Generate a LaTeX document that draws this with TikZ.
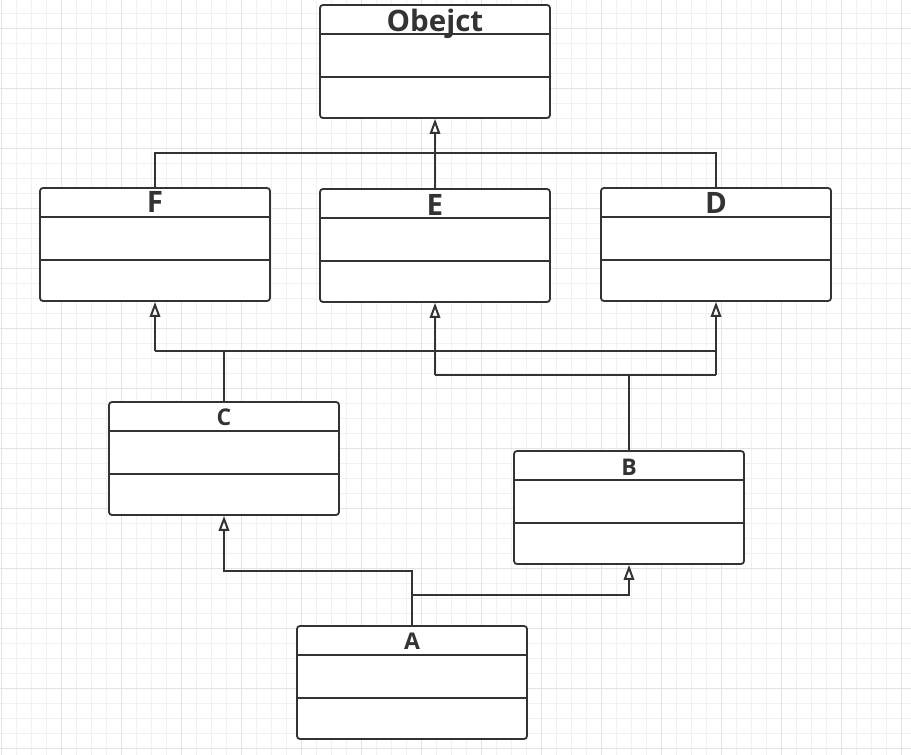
\documentclass[tikz,border=0pt]{standalone}
\usepackage{fontspec}
\setmainfont{Open Sans}
\usetikzlibrary{arrows.meta}
\definecolor{ink}{HTML}{333333}
\definecolor{gridminor}{HTML}{F1F1F1}
\definecolor{gridmajor}{HTML}{E3E3E3}
\tikzset{
  cls/.style={draw=ink, line width=1.8pt, rounded corners=3pt, minimum width=230pt, minimum height=113pt, inner sep=0pt, fill=white},
  bigtitle/.style={text=ink, font=\fontsize{29.5}{30}\selectfont\bfseries, anchor=base, inner sep=0pt},
  smalltitle/.style={text=ink, font=\fontsize{23}{24}\selectfont\bfseries, anchor=base, inner sep=0pt},
  conn/.style={draw=ink, line width=1.8pt},
  inh/.style={conn, -{Triangle[open, length=15pt, width=10.5pt, line width=2pt]}},
  divider/.style={draw=ink, line width=1.8pt}
}
\newcommand{\classbox}[3]{%
  % #1 name, #2 x, #3 y center
  \node[cls] (#1) at (#2,#3) {};
  \draw[divider] ([yshift=-30pt]#1.north west) -- ([yshift=-30pt]#1.north east);
  \draw[divider] ([yshift=-72.5pt]#1.north west) -- ([yshift=-72.5pt]#1.north east);
}
\begin{document}
\begin{tikzpicture}[x=1pt,y=-1pt]
\useasboundingbox (0,0) rectangle (911,755);
\fill[white] (0,0) rectangle (911,755);
% grid
\foreach \i in {0,...,60} {
  \pgfmathsetmacro{\gx}{1.7+15*\i}
  \pgfmathsetmacro{\gy}{13.3+15*\i}
  \draw[gridminor, line width=1pt] (\gx,0) -- (\gx,755);
  \draw[gridminor, line width=1pt] (0,\gy) -- (911,\gy);
}
\foreach \i in {0,...,15} {
  \pgfmathsetmacro{\gx}{1.7+60*\i}
  \pgfmathsetmacro{\gy}{28.3+60*\i}
  \draw[gridmajor, line width=1pt] (\gx,0) -- (\gx,755);
  \draw[gridmajor, line width=1pt] (0,\gy) -- (911,\gy);
}
% classes
\classbox{obj}{435}{61.5}
\classbox{F}{155}{244.5}
\classbox{E}{435}{245.5}
\classbox{D}{716}{244.5}
\classbox{C}{224}{458.5}
\classbox{B}{629}{507.5}
\classbox{A}{412}{682.5}
% titles
\node[bigtitle] (tobj) at (435,31) {Obejct};
\node[bigtitle] (tF) at (155,212.3) {F};
\node[bigtitle] (tE) at (435,215) {E};
\node[bigtitle] (tD) at (716,213.3) {D};
\node[smalltitle] (tC) at (224,425.7) {C};
\node[smalltitle] (tB) at (629,475) {B};
\node[smalltitle] (tA) at (412,649) {A};
% junction coordinates
\coordinate (j1) at (435,153);
\coordinate (jc) at (224,351);
\coordinate (jb) at (629,375);
\coordinate (ja1) at (412,571);
\coordinate (ja2) at (412,595);
% F, E, D -> Obejct
\draw[conn] (F.north) -- (F.north |- j1) -- (D.north |- j1) -- (D.north);
\draw[inh] (E.north) -- (obj.south);
% C -> F, D
\draw[conn] (C.north) -- (jc);
\draw[conn] (F.south |- jc) -- (D.south |- jc);
\draw[inh] (F.south |- jc) -- (F.south);
% B -> E, D
\draw[conn] (B.north) -- (jb);
\draw[conn] (E.south |- jb) -- (D.south |- jb);
\draw[inh] (E.south |- jb) -- (E.south);
\draw[inh] (D.south |- jb) -- (D.south);
% A -> C, B
\draw[inh] (A.north) -- (ja1) -| (C.south);
\draw[inh] (ja2) -| (B.south);
\end{tikzpicture}
\end{document}
